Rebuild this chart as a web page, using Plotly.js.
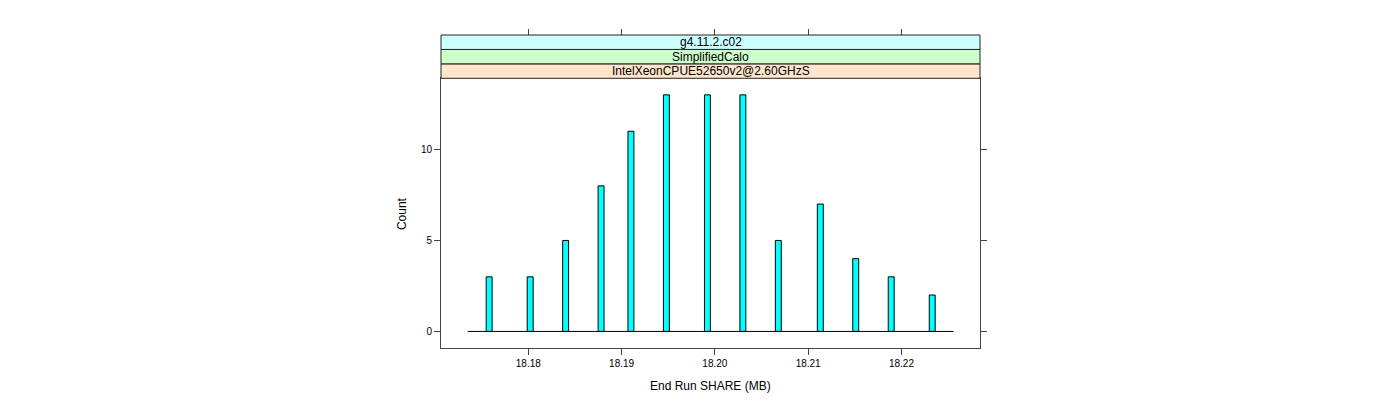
<!DOCTYPE html>
<html>
<head>
<meta charset="utf-8">
<script src="https://cdn.plot.ly/plotly-3.0.1.min.js"></script>
<style>
  html, body { margin: 0; padding: 0; background: #ffffff; }
  #chart { width: 1400px; height: 400px; }
</style>
</head>
<body>
<div id="chart"></div>
<script>
// ---- data ----
const shareMB = [18.1758, 18.1802, 18.1840, 18.1878, 18.1910, 18.1948, 18.1992,
                 18.2030, 18.2068, 18.2113, 18.2151, 18.2189, 18.2233];
const counts = [3, 3, 5, 8, 11, 13, 13, 13, 5, 7, 4, 3, 2];
const baselineX = [18.1735, 18.2256];
const baselineY = [0, 0];
const xTicks = [18.18, 18.19, 18.20, 18.21, 18.22];
const xTickLabels = ['18.18', '18.19', '18.20', '18.21', '18.22'];
const yTicks = [0, 5, 10];
const yTickLabels = ['0', '5', '10'];
const stripLabels = ['IntelXeonCPUE52650v2@2.60GHzS', 'SimplifiedCalo', 'g4.11.2.c02'];
const stripColors = ['#FFE5CC', '#CCFFCC', '#CCFFFF'];
const xTitle = 'End Run SHARE (MB)';
const yTitle = 'Count';

// ---- layout geometry ----
const xRange = [18.17064, 18.22842];
const yRange = [-0.91, 13.91];
const panelTop = 0.8617;           // top of the data panel in paper coords
const stripH = (1 - panelTop) / 3;
const FONT = 'Liberation Sans, Arial, Helvetica, sans-serif';
const border = '#444444';

const traces = [
  {
    type: 'scatter', mode: 'lines',
    x: baselineX, y: baselineY,
    line: {color: '#000000', width: 1},
    hoverinfo: 'skip', showlegend: false
  },
  {
    type: 'bar',
    x: shareMB, y: counts,
    width: 0.000636,
    marker: {color: '#00FFFF', line: {color: '#000000', width: 1}},
    showlegend: false
  },
  {
    // empty trace so that the mirrored tick axes (top / right) are drawn
    type: 'scatter', mode: 'markers',
    x: [null], y: [null],
    xaxis: 'x2', yaxis: 'y2',
    hoverinfo: 'skip', showlegend: false
  }
];

const shapes = [];
const annotations = [];
for (let i = 0; i < stripLabels.length; i++) {
  const y0 = panelTop + i * stripH;
  shapes.push({
    type: 'rect', xref: 'paper', yref: 'paper',
    x0: 0, x1: 1, y0: y0, y1: y0 + stripH,
    fillcolor: stripColors[i],
    line: {color: '#222222', width: 1},
    layer: 'above'
  });
  annotations.push({
    xref: 'paper', yref: 'paper',
    x: 0.5, y: y0 + stripH / 2,
    xanchor: 'center', yanchor: 'middle',
    text: stripLabels[i], showarrow: false,
    font: {family: FONT, size: 12, color: '#000000'}
  });
}
annotations.push({
  xref: 'paper', yref: 'y domain',
  x: -0.0724, y: 0.5, xanchor: 'center', yanchor: 'middle',
  textangle: -90, text: yTitle, showarrow: false,
  font: {family: FONT, size: 12, color: '#000000'}
});
annotations.push({
  xref: 'paper', yref: 'y domain',
  x: 0.5, y: 0, yshift: -37.5, xanchor: 'center', yanchor: 'middle',
  text: xTitle, showarrow: false,
  font: {family: FONT, size: 12, color: '#000000'}
});

const layout = {
  width: 1400, height: 400,
  margin: {l: 441, r: 420, t: 35, b: 52, pad: 0},
  paper_bgcolor: '#ffffff', plot_bgcolor: '#ffffff',
  font: {family: FONT, size: 10, color: '#000000'},
  bargap: 0,
  xaxis: {
    range: xRange, domain: [0, 1], anchor: 'y',
    tickvals: xTicks, ticktext: xTickLabels,
    ticks: 'outside', ticklen: 6, tickwidth: 1, tickcolor: border,
    showline: true, mirror: true, linecolor: border, linewidth: 1,
    showgrid: false, zeroline: false,
    tickfont: {family: FONT, size: 10, color: '#000000'}
  },
  xaxis2: {
    range: xRange, overlaying: 'x', anchor: 'free', position: 1, side: 'top',
    tickvals: xTicks, showticklabels: false,
    ticks: 'outside', ticklen: 6, tickwidth: 1, tickcolor: border,
    showline: false, showgrid: false, zeroline: false
  },
  yaxis: {
    range: yRange, domain: [0, panelTop], anchor: 'x',
    tickvals: yTicks, ticktext: yTickLabels,
    ticks: 'outside', ticklen: 6, tickwidth: 1, tickcolor: border,
    showline: true, mirror: true, linecolor: border, linewidth: 1,
    showgrid: false, zeroline: false,
    tickfont: {family: FONT, size: 10, color: '#000000'}
  },
  yaxis2: {
    range: yRange, domain: [0, panelTop], overlaying: 'y', side: 'right', anchor: 'x',
    tickvals: yTicks, showticklabels: false,
    ticks: 'outside', ticklen: 6, tickwidth: 1, tickcolor: border,
    showline: false, showgrid: false, zeroline: false
  },
  shapes: shapes,
  annotations: annotations,
  showlegend: false
};

Plotly.newPlot('chart', traces, layout, {displayModeBar: false, staticPlot: true});
</script>
</body>
</html>
